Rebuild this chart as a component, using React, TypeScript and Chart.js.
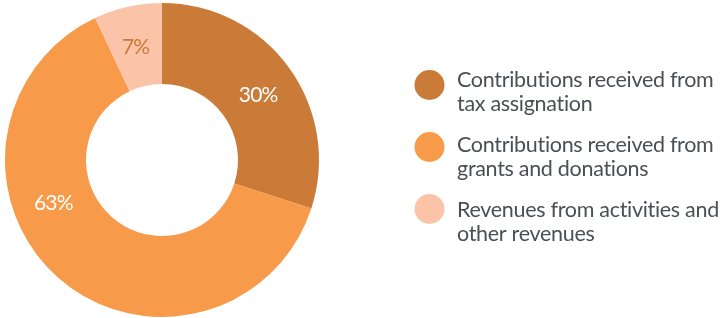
import React, { useEffect, useRef } from "react";
import { Chart, registerables } from "chart.js";

Chart.register(...registerables);

const categories = [
  ["Contributions received from", "tax assignation"],
  ["Contributions received from", "grants and donations"],
  ["Revenues from activities and", "other revenues"],
];
const values = [30, 63, 7];
const valueLabels = ["30%", "63%", "7%"];
const colors = ["#CA7B37", "#F79A4A", "#FBC4A8"];
const labelColors = ["#FFFFFF", "#FFFFFF", "#CA7B37"];
const labelAnglePos = [0.515, 0.621, 0.48];

const FONT = "Lato, 'Open Sans', sans-serif";

const overlayPlugin = {
  id: "overlay",
  afterDatasetsDraw(chart: any) {
    const ctx = chart.ctx;
    const meta = chart.getDatasetMeta(0);
    ctx.save();
    ctx.textAlign = "center";
    ctx.textBaseline = "alphabetic";
    ctx.font = `400 21px ${FONT}`;
    (ctx as any).letterSpacing = "-0.8px";
    meta.data.forEach((arc: any, i: number) => {
      const p = arc.getProps(["x", "y", "startAngle", "endAngle", "innerRadius", "outerRadius"], true);
      const a = p.startAngle + (p.endAngle - p.startAngle) * labelAnglePos[i];
      const r = (p.innerRadius + p.outerRadius) / 2;
      ctx.fillStyle = labelColors[i];
      ctx.fillText(valueLabels[i], p.x + Math.cos(a) * r, p.y + Math.sin(a) * r + 7.5);
    });
    // legend
    const lx = 429.5;
    const tx = 457;
    const baseTop = 86.5;
    const step = 65;
    const circTop = 85;
    const circStep = 62;
    const lh = 24;
    ctx.textAlign = "left";
    ctx.font = `21.5px ${FONT}`;
    (ctx as any).letterSpacing = "-0.3px";
    categories.forEach((lines, i) => {
      ctx.fillStyle = colors[i];
      ctx.beginPath();
      ctx.arc(lx, circTop + i * circStep, 15, 0, Math.PI * 2);
      ctx.fill();
      ctx.fillStyle = "#4B4F54";
      lines.forEach((ln, j) => ctx.fillText(ln, tx, baseTop + i * step + j * lh));
    });
    ctx.restore();
  },
};

export default function App() {
  const ref = useRef<HTMLCanvasElement | null>(null);
  useEffect(() => {
    if (!ref.current) return;
    const chart = new Chart(ref.current, {
      type: "doughnut",
      data: {
        labels: categories.map((c) => c.join(" ")),
        datasets: [
          {
            data: values,
            backgroundColor: colors,
            borderWidth: 0,
          },
        ],
      },
      options: {
        responsive: false,
        animation: false,
        cutout: "48.4%",
        layout: { padding: { left: 5, right: 408, top: 3, bottom: 1 } },
        plugins: { legend: { display: false }, tooltip: { enabled: false } },
      },
      plugins: [overlayPlugin],
    });
    return () => chart.destroy();
  }, []);
  return (
    <div style={{ position: "absolute", left: 0, top: 0, width: 727, height: 318, background: "#fff" }}>
      <canvas ref={ref} width={727} height={318} />
    </div>
  );
}
